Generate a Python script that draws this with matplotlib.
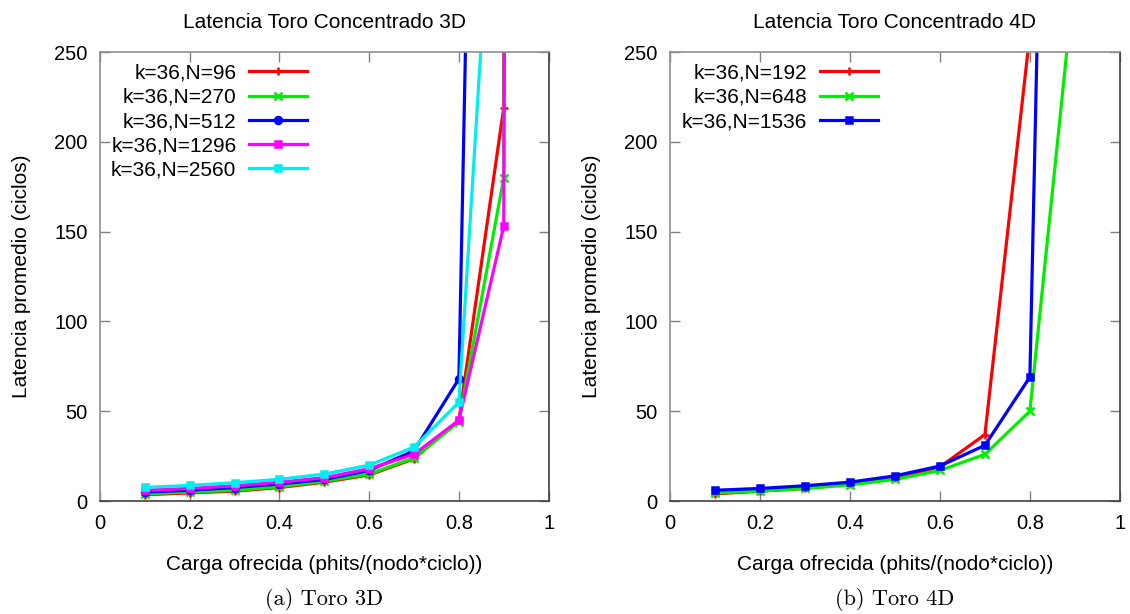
import matplotlib
matplotlib.use('Agg')
import matplotlib.pyplot as plt

# data
carga = [0.1, 0.2, 0.3, 0.4, 0.5, 0.6, 0.7, 0.8, 0.9, 1.0]

lat_3d_96 = [3.5, 4.5, 5.5, 7.5, 10.5, 14.5, 23.5, 45, 219, 10000]
lat_3d_270 = [4, 5, 6, 8, 11, 15, 24, 44, 180, 10000]
lat_3d_512 = [5, 6, 7.5, 9.5, 12, 17, 28, 68, 1320]
lat_3d_1296 = [6, 7, 8.5, 10.5, 13, 18, 26, 45, 153, 10000]
lat_3d_2560 = [7.6, 8.7, 10.2, 12.1, 15, 20, 30, 55, 456]

lat_4d_192 = [4, 5.5, 7, 9.5, 13, 19, 37, 260]
lat_4d_648 = [4.5, 5.5, 7, 9, 12, 17, 26, 50, 294]
lat_4d_1536 = [6, 7, 8.5, 10.5, 14, 19.5, 31, 69, 1230]

series_3d = [('k=36,N=96', lat_3d_96, '#ff0000', '+'),
             ('k=36,N=270', lat_3d_270, '#00ee00', 'x'),
             ('k=36,N=512', lat_3d_512, '#0000ff', 'o'),
             ('k=36,N=1296', lat_3d_1296, '#ff00ff', 's'),
             ('k=36,N=2560', lat_3d_2560, '#00eeee', 's')]
series_4d = [('k=36,N=192', lat_4d_192, '#ff0000', '+'),
             ('k=36,N=648', lat_4d_648, '#00ee00', 'x'),
             ('k=36,N=1536', lat_4d_1536, '#0000ff', 's')]

sans = 'Liberation Sans'
fs = 15

fig = plt.figure(figsize=(11.3, 6.14), dpi=100)
ax1 = fig.add_axes([0.0885, 0.184, 0.397, 0.7313])
ax2 = fig.add_axes([0.593, 0.184, 0.398, 0.7313])


def draw(ax, series, title, caption):
    for lab, vals, col, mk in series:
        ms = 5 if mk in ('s', 'o') else 6
        ax.plot(carga[:len(vals)], vals, color=col, marker=mk, markersize=ms,
                markeredgewidth=1.8, linewidth=2.3, label=lab)
    ax.set_xlim(0, 1)
    ax.set_ylim(0, 250)
    ax.set_xticks([0, 0.2, 0.4, 0.6, 0.8, 1])
    ax.set_xticklabels(['0', '0.2', '0.4', '0.6', '0.8', '1'])
    ax.set_yticks([0, 50, 100, 150, 200, 250])
    ax.tick_params(direction='in', length=7, width=1, color='#808080',
                   top=True, right=True, labelsize=14.5, pad=9)
    for lbl in ax.get_xticklabels() + ax.get_yticklabels():
        lbl.set_fontfamily(sans)
    for side in ['top', 'left']:
        ax.spines[side].set_color('#909090')
    for side in ['bottom', 'right']:
        ax.spines[side].set_color('#404040')
    for s in ax.spines.values():
        s.set_linewidth(1.2)
    ax.set_title(title, fontsize=fs, fontfamily=sans, pad=17)
    ax.set_xlabel('Carga ofrecida (phits/(nodo*ciclo))', fontsize=fs,
                  fontfamily=sans, labelpad=16)
    ax.set_ylabel('Latencia promedio (ciclos)', fontsize=fs,
                  fontfamily=sans, labelpad=17)
    ax.legend(loc='upper right', bbox_to_anchor=(0.483, 0.995),
              markerfirst=False, frameon=False, handlelength=2.8,
              labelspacing=0.25, borderaxespad=0.15, borderpad=0.3,
              handletextpad=0.6, prop={'family': sans, 'size': fs})
    ax.text(0.5, -0.22, caption, transform=ax.transAxes, ha='center',
            va='center', fontsize=16, fontfamily='cmr10')


draw(ax1, series_3d, 'Latencia Toro Concentrado 3D', '(a) Toro 3D')
draw(ax2, series_4d, 'Latencia Toro Concentrado 4D', '(b) Toro 4D')

fig.savefig('out.png', dpi=100)
